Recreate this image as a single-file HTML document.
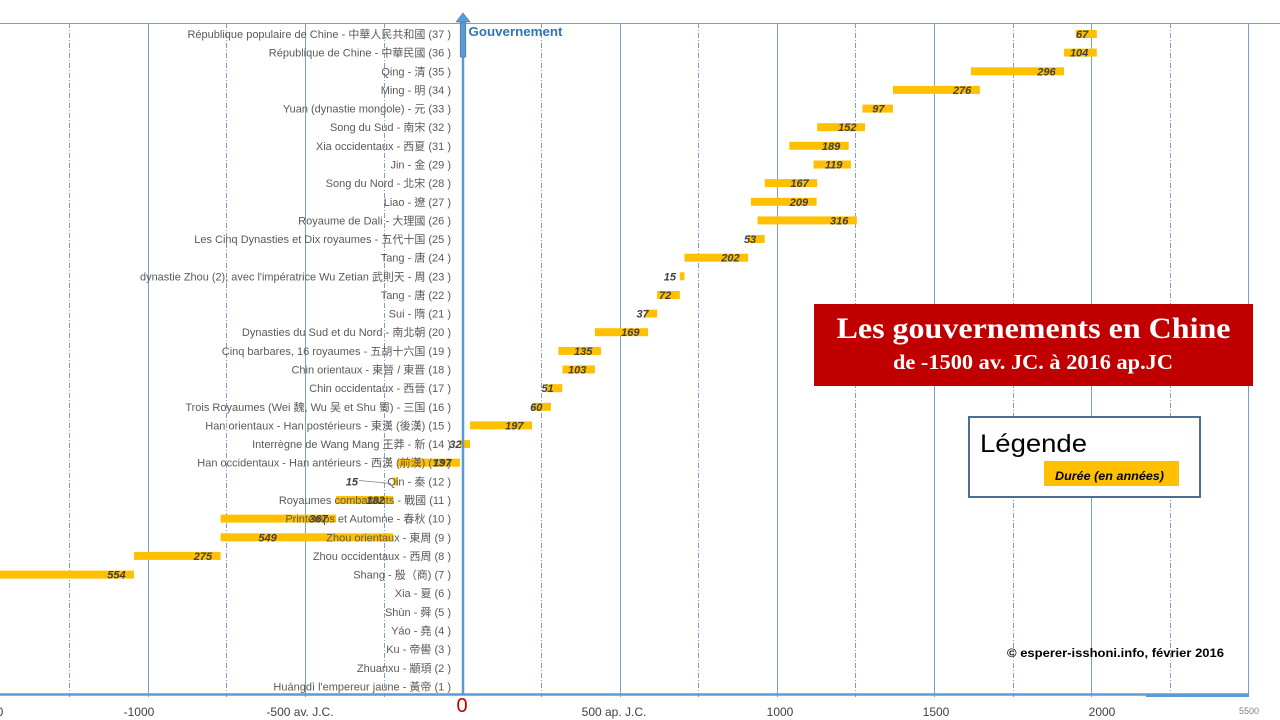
<!DOCTYPE html>
<html><head><meta charset="utf-8"><style>
html,body{margin:0;padding:0;background:#fff;}
svg{display:block;}
.cat{font-family:"Liberation Sans","Noto Sans CJK TC",sans-serif;font-size:11px;fill:#595959;text-anchor:end;}
.val{font-family:"Liberation Sans",sans-serif;font-size:11px;font-weight:bold;font-style:italic;fill:#404040;text-anchor:end;}
.tick{font-family:"Liberation Sans",sans-serif;font-size:12px;fill:#404040;text-anchor:middle;}
</style></head><body>
<svg width="1280" height="720" viewBox="0 0 1280 720" xmlns="http://www.w3.org/2000/svg">
<rect width="1280" height="720" fill="#fff"/>
<!-- top border -->
<line x1="0" y1="23.5" x2="1280" y2="23.5" stroke="#7aa0c8" stroke-width="1"/>
<!-- solid gridlines -->
<g stroke="#7aa0c8" stroke-width="1">
<line x1="148.5" y1="23" x2="148.5" y2="697"/>
<line x1="305.5" y1="23" x2="305.5" y2="697"/>
<line x1="620.5" y1="23" x2="620.5" y2="697"/>
<line x1="777.5" y1="23" x2="777.5" y2="697"/>
<line x1="934.5" y1="23" x2="934.5" y2="697"/>
<line x1="1091.5" y1="23" x2="1091.5" y2="697"/>
<line x1="1248.5" y1="23" x2="1248.5" y2="697"/>
</g>
<g stroke="#7aa0c8" stroke-width="1" stroke-dasharray="5,2,1,2">
<line x1="69.5" y1="23" x2="69.5" y2="697"/>
<line x1="226.5" y1="23" x2="226.5" y2="697"/>
<line x1="384.5" y1="23" x2="384.5" y2="697"/>
<line x1="541.5" y1="23" x2="541.5" y2="697"/>
<line x1="698.5" y1="23" x2="698.5" y2="697"/>
<line x1="855.5" y1="23" x2="855.5" y2="697"/>
<line x1="1013.5" y1="23" x2="1013.5" y2="697"/>
<line x1="1170.5" y1="23" x2="1170.5" y2="697"/>
</g>

<!-- bars -->
<g fill="#ffc000">
<rect x="1075.8" y="30" width="21" height="8"/>
<rect x="1064.1" y="48.6" width="32.7" height="8"/>
<rect x="971" y="67.3" width="93.1" height="8"/>
<rect x="893" y="85.9" width="86.8" height="8"/>
<rect x="862.5" y="104.6" width="30.5" height="8"/>
<rect x="817.2" y="123.2" width="47.8" height="8"/>
<rect x="789.3" y="141.8" width="59.4" height="8"/>
<rect x="813.5" y="160.5" width="37.4" height="8"/>
<rect x="764.7" y="179.1" width="52.5" height="8"/>
<rect x="750.9" y="197.8" width="65.7" height="8"/>
<rect x="757.5" y="216.4" width="99.4" height="8"/>
<rect x="748.1" y="235" width="16.6" height="8"/>
<rect x="684.5" y="253.7" width="63.6" height="8"/>
<rect x="679.8" y="272.3" width="4.7" height="8"/>
<rect x="657.2" y="291" width="22.6" height="8"/>
<rect x="645.5" y="309.6" width="11.7" height="8"/>
<rect x="594.9" y="328.2" width="53.1" height="8"/>
<rect x="558.4" y="346.9" width="42.5" height="8"/>
<rect x="562.5" y="365.5" width="32.4" height="8"/>
<rect x="546.1" y="384.2" width="16.1" height="8"/>
<rect x="532" y="402.8" width="18.9" height="8"/>
<rect x="470" y="421.4" width="62" height="8"/>
<rect x="460" y="440.1" width="10" height="8"/>
<rect x="398" y="458.7" width="62" height="8"/>
<rect x="393.3" y="477.4" width="4.7" height="8"/>
<rect x="336.1" y="496" width="57.2" height="8"/>
<rect x="220.6" y="514.6" width="115.5" height="8"/>
<rect x="220.6" y="533.3" width="172.7" height="8"/>
<rect x="134.1" y="551.9" width="86.5" height="8"/>
<rect x="0" y="570.6" width="134.1" height="8"/>
</g>

<!-- category labels -->
<g class="cat">
<text x="451" y="38">République populaire de Chine - 中華人民共和國 (37 )</text>
<text x="451" y="56.6">République de Chine - 中華民國 (36 )</text>
<text x="451" y="75.3">Qing - 清 (35 )</text>
<text x="451" y="93.9">Ming - 明 (34 )</text>
<text x="451" y="112.6">Yuan (dynastie mongole) - 元 (33 )</text>
<text x="451" y="131.2">Song du Sud - 南宋 (32 )</text>
<text x="451" y="149.8">Xia occidentaux - 西夏 (31 )</text>
<text x="451" y="168.5">Jin - 金 (29 )</text>
<text x="451" y="187.1">Song du Nord - 北宋 (28 )</text>
<text x="451" y="205.8">Liao - 遼 (27 )</text>
<text x="451" y="224.4">Royaume de Dali - 大理國 (26 )</text>
<text x="451" y="243">Les Cinq Dynasties et Dix royaumes - 五代十国 (25 )</text>
<text x="451" y="261.7">Tang - 唐 (24 )</text>
<text x="451" y="280.3" textLength="311" lengthAdjust="spacingAndGlyphs">dynastie Zhou (2), avec l'impératrice Wu Zetian 武則天 - 周 (23 )</text>
<text x="451" y="299">Tang - 唐 (22 )</text>
<text x="451" y="317.6">Sui - 隋 (21 )</text>
<text x="451" y="336.2">Dynasties du Sud et du Nord - 南北朝 (20 )</text>
<text x="451" y="354.9">Cinq barbares, 16 royaumes - 五胡十六国 (19 )</text>
<text x="451" y="373.5">Chin orientaux - 東晉 / 東晋 (18 )</text>
<text x="451" y="392.2">Chin occidentaux - 西晉 (17 )</text>
<text x="451" y="410.8">Trois Royaumes (Wei 魏, Wu 吴 et Shu 蜀) - 三国 (16 )</text>
<text x="451" y="429.4">Han orientaux - Han postérieurs - 東漢 (後漢) (15 )</text>
<text x="451" y="448.1">Interrègne de Wang Mang 王莽 - 新 (14 )</text>
<text x="451" y="466.7">Han occidentaux - Han antérieurs - 西漢 (前漢) (13 )</text>
<text x="451" y="485.4">Qin - 秦 (12 )</text>
<text x="451" y="504">Royaumes combattants - 戰國 (11 )</text>
<text x="451" y="522.6">Printemps et Automne - 春秋 (10 )</text>
<text x="451" y="541.3">Zhou orientaux - 東周 (9 )</text>
<text x="451" y="559.9">Zhou occidentaux - 西周 (8 )</text>
<text x="451" y="578.6">Shang - 殷（商) (7 )</text>
<text x="451" y="597.2">Xia - 夏 (6 )</text>
<text x="451" y="615.8">Shùn - 舜 (5 )</text>
<text x="451" y="634.5">Yáo - 堯 (4 )</text>
<text x="451" y="653.1">Ku - 帝嚳 (3 )</text>
<text x="451" y="671.8">Zhuanxu - 顓頊 (2 )</text>
<text x="451" y="690.4">Huángdì l'empereur jaune - 黃帝 (1 )</text>
</g>

<!-- value labels -->
<g class="val">
<text x="1088.3" y="38">67</text>
<text x="1088.3" y="56.6">104</text>
<text x="1055.6" y="75.3">296</text>
<text x="971.3" y="93.9">276</text>
<text x="884.5" y="112.6">97</text>
<text x="856.5" y="131.2">152</text>
<text x="840.2" y="149.8">189</text>
<text x="842.4" y="168.5">119</text>
<text x="808.7" y="187.1">167</text>
<text x="808.1" y="205.8">209</text>
<text x="848.4" y="224.4">316</text>
<text x="756.2" y="243">53</text>
<text x="739.6" y="261.7">202</text>
<text x="676" y="280.3">15</text>
<text x="671.3" y="299">72</text>
<text x="648.7" y="317.6">37</text>
<text x="639.5" y="336.2">169</text>
<text x="592.4" y="354.9">135</text>
<text x="586.4" y="373.5">103</text>
<text x="553.7" y="392.2">51</text>
<text x="542.4" y="410.8">60</text>
<text x="523.5" y="429.4">197</text>
<text x="461.5" y="448.1">32</text>
<text x="451.5" y="466.7">197</text>
<text x="358" y="485.4">15</text>
<text x="384.8" y="504">182</text>
<text x="327.6" y="522.6">367</text>
<text x="276.7" y="541.3">549</text>
<text x="212.1" y="559.9">275</text>
<text x="125.6" y="578.6">554</text>
</g>
<line x1="359" y1="480.5" x2="391" y2="483.5" stroke="#808080" stroke-width="0.8"/>

<!-- y axis with arrow -->
<line x1="463" y1="56" x2="463" y2="695" stroke="#5b9bd5" stroke-width="2.5"/>
<rect x="460.2" y="21" width="5.6" height="36" fill="#5b9bd5" stroke="#41719c" stroke-width="0.6"/>
<polygon points="456,22 463,13 470,22" fill="#5b9bd5" stroke="#41719c" stroke-width="0.6"/>
<text x="468.5" y="36" font-family="Liberation Sans, sans-serif" font-size="13" font-weight="bold" fill="#2e75b6" textLength="94" lengthAdjust="spacingAndGlyphs">Gouvernement</text>

<!-- x axis -->
<line x1="0" y1="694.5" x2="1249" y2="694.5" stroke="#5b9bd5" stroke-width="2.5"/>
<line x1="1146" y1="696" x2="1249" y2="696" stroke="#5b9bd5" stroke-width="2"/>

<!-- tick labels -->
<text class="tick" x="-12" y="716">-1500</text>
<text class="tick" x="139" y="716">-1000</text>
<text class="tick" x="300" y="716">-500 av. J.C.</text>
<text x="462" y="712" font-family="Liberation Sans, sans-serif" font-size="20" fill="#c00000" text-anchor="middle">0</text>
<text class="tick" x="614" y="716">500 ap. J.C.</text>
<text class="tick" x="780" y="716">1000</text>
<text class="tick" x="936" y="716">1500</text>
<text class="tick" x="1102" y="716">2000</text>
<text x="1249" y="714" font-family="Liberation Sans, sans-serif" font-size="9" fill="#808080" text-anchor="middle">5500</text>

<!-- title box -->
<rect x="814" y="304" width="439" height="82" fill="#c00000"/>
<text x="1033.5" y="338" font-family="Liberation Serif, serif" font-size="30" font-weight="bold" fill="#fff" text-anchor="middle" textLength="394" lengthAdjust="spacingAndGlyphs">Les gouvernements en Chine</text>
<text x="1033" y="369" font-family="Liberation Serif, serif" font-size="21" font-weight="bold" fill="#fff" text-anchor="middle" textLength="280" lengthAdjust="spacingAndGlyphs">de -1500 av. JC. à 2016 ap.JC</text>

<!-- legend -->
<rect x="969" y="417" width="231" height="80" fill="#fff" stroke="#4a6e94" stroke-width="2"/>
<text x="980" y="452" font-family="Liberation Sans, sans-serif" font-size="25" fill="#000" textLength="107" lengthAdjust="spacingAndGlyphs">Légende</text>
<rect x="1044" y="461" width="135" height="25" fill="#ffc000"/>
<text x="1055" y="480" font-family="Liberation Sans, sans-serif" font-size="12" font-weight="bold" font-style="italic" fill="#000" textLength="109" lengthAdjust="spacingAndGlyphs">Durée (en années)</text>

<!-- copyright -->
<text x="1007" y="657" font-family="Liberation Sans, sans-serif" font-size="12" font-weight="bold" fill="#000" textLength="217" lengthAdjust="spacingAndGlyphs">© esperer-isshoni.info, février 2016</text>
</svg>
</body></html>
